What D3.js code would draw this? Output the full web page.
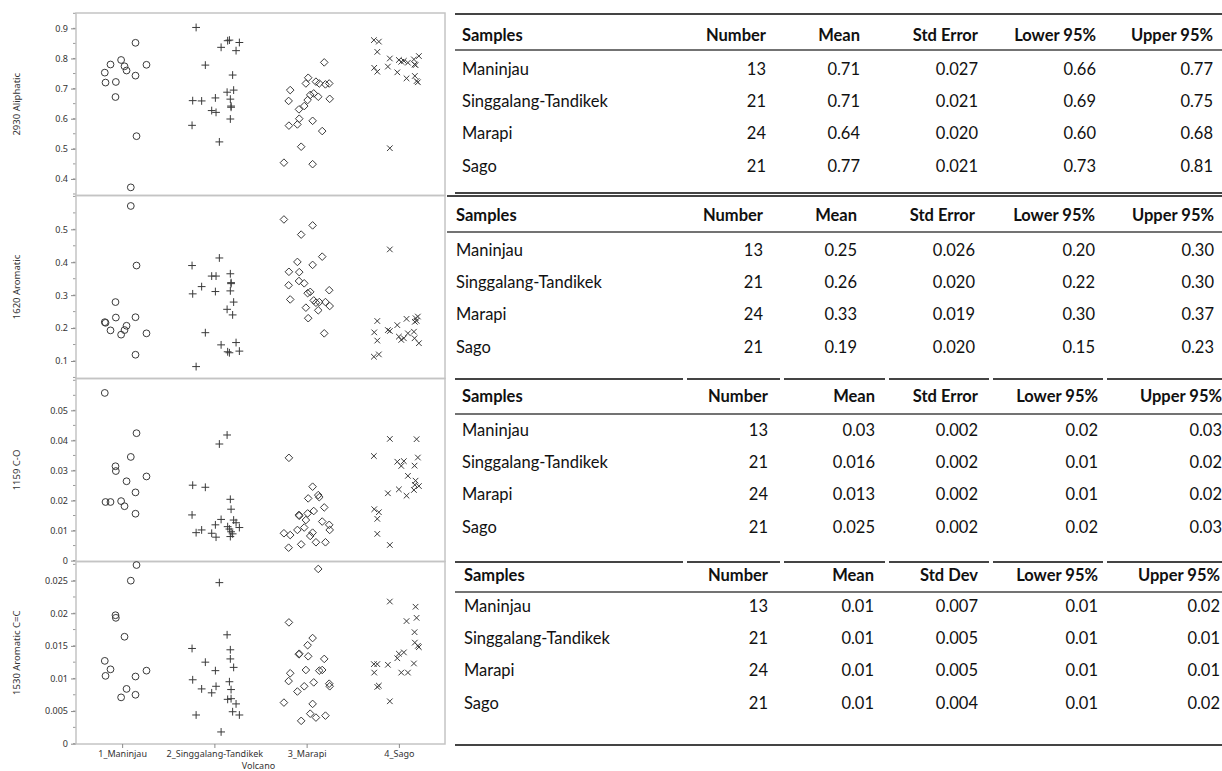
<!DOCTYPE html>
<html>
<head>
<meta charset="utf-8">
<script src="https://cdn.jsdelivr.net/npm/d3@7"></script>
<style>
  html, body { margin: 0; padding: 0; background: #fff; }
  svg { display: block; }
</style>
</head>
<body>
<svg id="fig" width="1222" height="771"></svg>
<script>
// ---------- data ----------
const volcanoes = ["1_Maninjau", "2_Singgalang-Tandikek", "3_Marapi", "4_Sago"];
const variables = ["2930 Aliphatic", "1620 Aromatic", "1159 C-O", "1530 Aromatic C=C"];

// horizontal jitter of each sample inside its volcano column (fraction of column width)
const maninjauJitter = [-0.188, -0.180, -0.126, -0.072, -0.068, -0.011, 0.026, 0.048, 0.094, 0.145, 0.145, 0.156, 0.264];
const singgalangJitter = [-0.198, 0.073, 0.144, 0.163, 0.271, 0.235, -0.098, 0.198, 0.209, 0.138, -0.235, -0.138, 0.011, 0.173, 0.181, 0.181, -0.029, 0.018, 0.173, -0.242, 0.054];
const marapiJitter = [-0.246, -0.195, -0.178, -0.192, -0.100, -0.080, -0.059, -0.083, -0.026, -0.008, 0.017, 0.011, 0.039, 0.077, 0.065, 0.065, 0.101, 0.137, 0.169, 0.191, 0.204, 0.245, 0.250, 0.126];
const sagoJitter = [-0.271, -0.217, -0.234, -0.098, 0.000, 0.026, 0.054, 0.098, 0.163, 0.217, 0.170, 0.181, -0.267, -0.234, -0.119, -0.017, 0.083, 0.173, 0.192, 0.206, -0.098];

// band values per volcano, samples in the same order as the jitter arrays
const aliphatic2930 = [
  [0.753, 0.720, 0.780, 0.672, 0.722, 0.795, 0.774, 0.760, 0.372, 0.852, 0.743, 0.542, 0.779],
  [0.903, 0.837, 0.859, 0.861, 0.853, 0.826, 0.778, 0.745, 0.695, 0.688, 0.660, 0.659, 0.669, 0.665, 0.642, 0.638, 0.627, 0.621, 0.599, 0.578, 0.523],
  [0.454, 0.659, 0.695, 0.577, 0.581, 0.600, 0.507, 0.631, 0.642, 0.717, 0.736, 0.662, 0.679, 0.684, 0.593, 0.449, 0.723, 0.717, 0.559, 0.787, 0.714, 0.717, 0.666, 0.673],
  [0.861, 0.856, 0.822, 0.800, 0.795, 0.789, 0.792, 0.786, 0.797, 0.808, 0.780, 0.778, 0.769, 0.756, 0.773, 0.754, 0.734, 0.742, 0.725, 0.721, 0.502]
];
const aromatic1620 = [
  [0.218, 0.216, 0.193, 0.279, 0.232, 0.180, 0.194, 0.207, 0.571, 0.233, 0.119, 0.390, 0.184],
  [0.083, 0.149, 0.128, 0.125, 0.130, 0.156, 0.186, 0.240, 0.279, 0.257, 0.304, 0.326, 0.311, 0.313, 0.338, 0.335, 0.358, 0.358, 0.365, 0.390, 0.413],
  [0.530, 0.330, 0.287, 0.371, 0.401, 0.370, 0.484, 0.343, 0.336, 0.262, 0.230, 0.306, 0.310, 0.284, 0.392, 0.512, 0.277, 0.279, 0.417, 0.184, 0.279, 0.315, 0.267, 0.254],
  [0.113, 0.120, 0.2215, 0.191, 0.174, 0.164, 0.169, 0.184, 0.189, 0.154, 0.169, 0.230, 0.187, 0.162, 0.194, 0.209, 0.228, 0.219, 0.222, 0.235, 0.439]
];
const co1159 = [
  [0.0558, 0.0195, 0.0195, 0.0314, 0.0298, 0.0198, 0.0181, 0.0264, 0.0345, 0.0227, 0.0156, 0.0424, 0.0280],
  [0.0093, 0.0137, 0.0113, 0.0105, 0.0110, 0.0126, 0.0244, 0.0089, 0.0135, 0.0418, 0.0251, 0.0102, 0.0119, 0.0204, 0.0171, 0.0096, 0.0091, 0.0078, 0.0080, 0.0152, 0.0388],
  [0.0091, 0.0043, 0.0085, 0.0342, 0.0102, 0.0149, 0.0054, 0.0152, 0.0110, 0.0135, 0.0207, 0.0157, 0.0082, 0.0165, 0.0093, 0.0246, 0.0061, 0.0211, 0.0130, 0.0177, 0.0061, 0.0119, 0.0102, 0.0218],
  [0.0348, 0.0161, 0.0139, 0.0405, 0.0237, 0.0315, 0.0331, 0.0282, 0.0235, 0.0248, 0.0316, 0.0266, 0.0171, 0.0089, 0.0224, 0.0329, 0.0216, 0.0252, 0.0404, 0.0343, 0.0052]
];
const aromaticCC1530 = [
  [0.0127, 0.0104, 0.0114, 0.0197, 0.0193, 0.0071, 0.0164, 0.0084, 0.0250, 0.0103, 0.0075, 0.0274, 0.0112],
  [0.0044, 0.0018, 0.0068, 0.0095, 0.0044, 0.0061, 0.0125, 0.0049, 0.0117, 0.0167, 0.0098, 0.0084, 0.0112, 0.0144, 0.0083, 0.0069, 0.0078, 0.0088, 0.0130, 0.0146, 0.0247],
  [0.0063, 0.0096, 0.0108, 0.0186, 0.0080, 0.0138, 0.0035, 0.0137, 0.0088, 0.0113, 0.0134, 0.0151, 0.0046, 0.0094, 0.0061, 0.0162, 0.0040, 0.0112, 0.0113, 0.0130, 0.0043, 0.0092, 0.0088, 0.0268],
  [0.0122, 0.0089, 0.0122, 0.0218, 0.0138, 0.0109, 0.0140, 0.0109, 0.0123, 0.0148, 0.0171, 0.0210, 0.0109, 0.0087, 0.0121, 0.0131, 0.0188, 0.0155, 0.0193, 0.0150, 0.0065]
];

// axis ranges and tick labels of the four panels
const yDomains = [[0.345, 0.951], [0.0468, 0.6028], [-0.0003, 0.0606], [-0.00005, 0.02794]];
const yTicks = [
  ["0.4", "0.5", "0.6", "0.7", "0.8", "0.9"],
  ["0.1", "0.2", "0.3", "0.4", "0.5"],
  ["0", "0.01", "0.02", "0.03", "0.04", "0.05"],
  ["0", "0.005", "0.01", "0.015", "0.02", "0.025"]
];
const yMinorStep = [0.05, 0.05, 0.005, 0.0025];

// summary tables
const sampleNames = ["Maninjau", "Singgalang-Tandikek", "Marapi", "Sago"];
const sampleCounts = ["13", "21", "24", "21"];
const headersSE = ["Samples", "Number", "Mean", "Std Error", "Lower 95%", "Upper 95%"];
const headersSD = ["Samples", "Number", "Mean", "Std Dev", "Lower 95%", "Upper 95%"];
const statsAliphatic = [
  ["0.71", "0.027", "0.66", "0.77"],
  ["0.71", "0.021", "0.69", "0.75"],
  ["0.64", "0.020", "0.60", "0.68"],
  ["0.77", "0.021", "0.73", "0.81"]
];
const statsAromatic = [
  ["0.25", "0.026", "0.20", "0.30"],
  ["0.26", "0.020", "0.22", "0.30"],
  ["0.33", "0.019", "0.30", "0.37"],
  ["0.19", "0.020", "0.15", "0.23"]
];
const statsCO = [
  ["0.03", "0.002", "0.02", "0.03"],
  ["0.016", "0.002", "0.01", "0.02"],
  ["0.013", "0.002", "0.01", "0.02"],
  ["0.025", "0.002", "0.02", "0.03"]
];
const statsAromaticCC = [
  ["0.01", "0.007", "0.01", "0.02"],
  ["0.01", "0.005", "0.01", "0.01"],
  ["0.01", "0.005", "0.01", "0.01"],
  ["0.01", "0.004", "0.01", "0.02"]
];

// ---------- layout ----------
const svg = d3.select("#fig");
const plotLeft = 76, plotRight = 445;
const panelEdges = [13, 195.5, 378.5, 561.5, 744];
const tickFont = "'Noto Sans', 'DejaVu Sans', sans-serif";
const markStroke = "#3a3a3a";

const x = d3.scalePoint().domain(volcanoes).range([plotLeft, plotRight]).padding(0.5);
const step = x.step();
const jitters = [maninjauJitter, singgalangJitter, marapiJitter, sagoJitter];
const panelValues = [aliphatic2930, aromatic1620, co1159, aromaticCC1530];

// marker shapes per volcano
const shapes = [
  g => g.append("circle").attr("r", 3.4),
  g => g.append("path").attr("d", "M-3.9,0H3.9M0,-3.9V3.9"),
  g => g.append("path").attr("d", "M0,-3.8L3.8,0L0,3.8L-3.8,0Z"),
  g => g.append("path").attr("d", "M-2.8,-2.8L2.8,2.8M-2.8,2.8L2.8,-2.8")
];

panelValues.forEach((values, p) => {
  const top = panelEdges[p], bottom = panelEdges[p + 1];
  const y = d3.scaleLinear().domain(yDomains[p]).range([bottom, top]);
  const g = svg.append("g");

  // minor ticks
  const minors = d3.range(Math.ceil(yDomains[p][0] / yMinorStep[p] - 1e-9), Math.floor(yDomains[p][1] / yMinorStep[p] + 1e-9) + 1)
    .map(k => k * yMinorStep[p]);
  g.append("g").selectAll("line").data(minors).join("line")
    .attr("x1", plotLeft - 3).attr("x2", plotLeft)
    .attr("y1", d => y(d)).attr("y2", d => y(d))
    .attr("stroke", "#9a9a9a").attr("stroke-width", 1);

  // major ticks + labels
  const axis = d3.axisLeft(y).tickValues(yTicks[p].map(Number))
    .tickFormat((d, i) => yTicks[p][i]).tickSize(5).tickPadding(3);
  const ag = g.append("g").attr("transform", `translate(${plotLeft},0)`).call(axis);
  ag.select(".domain").remove();
  ag.selectAll(".tick line").attr("stroke", "#8a8a8a");
  ag.selectAll(".tick text").attr("fill", "#333").style("font-family", tickFont).style("font-size", "9px");

  // panel frame
  g.append("rect")
    .attr("x", plotLeft).attr("y", top)
    .attr("width", plotRight - plotLeft).attr("height", bottom - top)
    .attr("fill", "none").attr("stroke", "#c4c4c4").attr("stroke-width", 1.5);

  // axis title
  g.append("text")
    .attr("transform", `translate(20,${(top + bottom) / 2}) rotate(-90)`)
    .attr("text-anchor", "middle")
    .style("font-family", tickFont).style("font-size", "9.5px").attr("fill", "#333")
    .text(variables[p]);

  // points
  volcanoes.forEach((v, vi) => {
    values[vi].forEach((val, i) => {
      const px = x(v) + jitters[vi][i] * step;
      const m = g.append("g").attr("transform", `translate(${px},${y(val)})`)
        .attr("fill", "none").attr("stroke", markStroke).attr("stroke-width", 1);
      shapes[vi](m);
    });
  });
});

// x axis
const xg = svg.append("g").attr("transform", `translate(0,${panelEdges[4]})`)
  .call(d3.axisBottom(x).tickSize(4).tickPadding(3));
xg.select(".domain").remove();
xg.selectAll(".tick line").attr("stroke", "#8a8a8a");
xg.selectAll(".tick text").attr("fill", "#333").style("font-family", tickFont).style("font-size", "9px");
svg.append("text").attr("x", (plotLeft + plotRight) / 2 - 2).attr("y", 769)
  .attr("text-anchor", "middle").style("font-family", tickFont).style("font-size", "9px").attr("fill", "#333")
  .text("Volcano");

// ---------- tables ----------
const tableFont = "Lato, 'Open Sans', sans-serif";
const tables = [
  { headers: headersSE, stats: statsAliphatic, left: 455, textLeft: 462, rights: [766, 860, 978, 1096, 1213],
    top: 14, under: 50, bottom: 193, rows: [35, 69, 101, 133, 166], segmented: false },
  { headers: headersSE, stats: statsAromatic, left: 447, textLeft: 456, rights: [763, 857, 975, 1095, 1214],
    top: 196, under: 232, bottom: null, rows: [215, 250, 282, 314, 347], segmented: false },
  { headers: headersSE, stats: statsCO, left: 455, textLeft: 462, rights: [768, 875, 978, 1098, 1222],
    top: 379, under: 414, bottom: null, rows: [396, 430, 462, 494, 527], segmented: true },
  { headers: headersSD, stats: statsAromaticCC, left: 455, textLeft: 464, rights: [768, 874, 978, 1098, 1220],
    top: 562, under: 592, bottom: 745, rows: [575, 606, 638, 670, 703], segmented: true }
];
const colGaps = [685, 782, 887, 991, 1105];

function rule(y, t, width, color, segmented) {
  const segs = [];
  if (segmented) {
    let start = t.left;
    colGaps.forEach(gx => { segs.push([start, gx - 2]); start = gx + 2; });
    segs.push([start, 1222]);
  } else segs.push([t.left, 1222]);
  segs.forEach(([a, b]) => svg.append("line")
    .attr("x1", a).attr("x2", b).attr("y1", y).attr("y2", y)
    .attr("stroke", color).attr("stroke-width", width));
}

tables.forEach(t => {
  rule(t.top, t, 1.8, "#444", t.segmented);
  rule(t.under, t, 1.6, "#444", false);
  if (t.bottom) rule(t.bottom, t, 1.8, "#444", false);
  const tg = svg.append("g").style("font-family", tableFont).style("font-size", "16.5px").attr("fill", "#111");
  // header
  t.headers.forEach((h, c) => {
    tg.append("text")
      .attr("x", c === 0 ? t.textLeft : t.rights[c - 1]).attr("y", t.rows[0])
      .attr("dy", "0.35em").attr("text-anchor", c === 0 ? "start" : "end")
      .style("font-weight", "bold").text(h);
  });
  // body
  sampleNames.forEach((s, r) => {
    const cells = [s, sampleCounts[r]].concat(t.stats[r]);
    cells.forEach((val, c) => {
      tg.append("text")
        .attr("x", c === 0 ? t.textLeft : t.rights[c - 1]).attr("y", t.rows[r + 1])
        .attr("dy", "0.35em").attr("text-anchor", c === 0 ? "start" : "end")
        .text(val);
    });
  });
});
</script>
</body>
</html>
